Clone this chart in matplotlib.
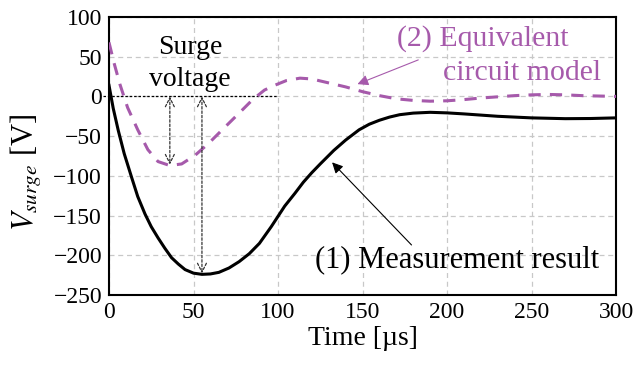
import matplotlib
matplotlib.use("Agg")
import matplotlib.pyplot as plt
import numpy as np

plt.rcParams['font.family'] = ['Liberation Serif', 'DejaVu Serif']
plt.rcParams['mathtext.fontset'] = 'stix'

# (1) Measurement result
t_meas = [0, 2.5, 5.5, 9, 13.4, 17, 21.3, 25, 29, 33, 37, 41, 45, 50, 55, 60, 65, 71, 77, 83, 89, 96,
          100, 104, 110, 115, 120, 125, 133, 140, 148, 154, 160, 166, 172, 180, 190, 200, 210, 230, 250,
          270, 285, 300]
v_meas = [14, -15, -43, -72, -102, -126, -148, -164, -178, -191, -203, -211, -218, -222.5, -224, -223.5,
          -221.5, -216, -208, -198, -185, -164, -151, -138, -122, -108, -96, -85, -68, -55, -42, -35, -30,
          -26, -23, -21, -20, -20.7, -22, -25, -27, -28, -27.8, -27]
# (2) Equivalent circuit model
t_model = [0, 3, 6.5, 11, 17, 23, 29, 36, 43, 51, 59, 67, 77, 85, 92, 98, 105, 113, 120, 130, 140, 150,
           160, 170, 180, 190, 200, 210, 220, 230, 240, 250, 260, 270, 280, 290, 300]
v_model = [68, 42, 15, -14, -42, -67, -82, -87, -85, -74, -59, -42, -21, -4, 8, 14, 20, 23, 22, 17, 12, 6,
           1, -3, -5, -6, -5.5, -4, -2, -0.5, 1, 2, 2.5, 2, 1, 0.5, 0]

xticks = [0, 50, 100, 150, 200, 250, 300]
yticks = [100, 50, 0, -50, -100, -150, -200, -250]

purple = '#a65aab'

fig = plt.figure(figsize=(6.38, 3.69), dpi=100)
ax = fig.add_axes([109/638, 1-295/369, (616-109)/638, (295-17)/369])

ax.plot(t_meas, v_meas, color='black', lw=2.2, zorder=4, solid_joinstyle='round')
ax.plot(t_model, v_model, color=purple, lw=2.2, ls=(0, (4, 3)), zorder=4)

ax.set_xlim(0, 300)
ax.set_ylim(-250, 100)
ax.set_xticks(xticks)
ax.set_yticks(yticks)
ax.set_yticklabels([str(v).replace('-', '\u2212') for v in yticks])
ax.tick_params(length=0, labelsize=17, pad=5)
ax.grid(True, color='#c8c8c8', ls=(0, (4, 3)), lw=0.9)
for s in ax.spines.values():
    s.set_linewidth(1.5)
    s.set_color('black')

ax.set_xlabel('Time [\u00b5s]', fontsize=20, labelpad=2)
ax.set_ylabel(r'$V_{surge}$ [V]', fontsize=22, labelpad=2)
ax.yaxis.set_label_coords(-0.128, 0.44)

# zero reference dotted line
ax.plot([-3.5, 99.5], [0, 0], color='black', lw=0.9, ls=(0, (2, 1.5)), zorder=3, clip_on=False)
# surge voltage arrows
arr = dict(arrowstyle='<->', color='#333333', lw=0.9, ls=(0, (2, 1.5)), shrinkA=0, shrinkB=0,
           mutation_scale=16)
ax.annotate('', xy=(36, -86), xytext=(36, 0), arrowprops=arr, zorder=5)
ax.annotate('', xy=(55, -223), xytext=(55, 0), arrowprops=arr, zorder=5)
ax.text(48, 62, 'Surge', fontsize=20, ha='center', va='center')
ax.text(48, 21, 'voltage', fontsize=20, ha='center', va='center')

# labels
ax.text(122, -205, '(1) Measurement result', fontsize=22, ha='left', va='center')
ax.annotate('', xy=(132, -83), xytext=(179, -187),
            arrowprops=dict(arrowstyle='-|>', color='black', lw=0.8, shrinkA=0, shrinkB=0,
                            mutation_scale=16))
ax.text(170.4, 73, '(2) Equivalent', fontsize=21.5, ha='left', va='center', color=purple)
ax.text(197.6, 29.5, 'circuit model', fontsize=21.5, ha='left', va='center', color=purple)
ax.annotate('', xy=(147, 15.5), xytext=(183, 46),
            arrowprops=dict(arrowstyle='-|>', color=purple, lw=0.8, shrinkA=0, shrinkB=0,
                            mutation_scale=16))

fig.savefig('out.png', dpi=100)
